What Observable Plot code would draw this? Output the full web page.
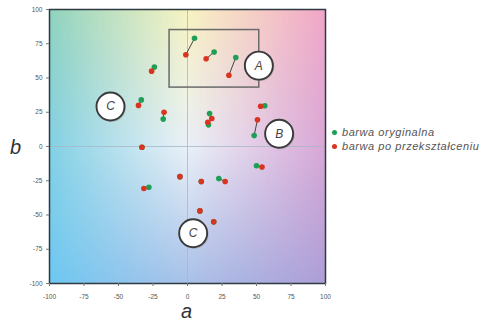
<!DOCTYPE html>
<html>
<head>
<meta charset="utf-8">
<script src="https://cdn.jsdelivr.net/npm/d3@7"></script>
<script src="https://cdn.jsdelivr.net/npm/@observablehq/plot@0.6"></script>
<style>
  body { margin: 0; background: #fff; font-family: "Liberation Sans", Arial, sans-serif; }
  #wrap { position: relative; width: 493px; height: 329px; overflow: hidden; }
  .axlab { position: absolute; font-style: italic; font-size: 20px; color: #333; line-height: 1; }
  #legend { position: absolute; left: 332px; top: 126px; font-size: 11px; letter-spacing: 0.55px; font-style: italic; color: #555; white-space: nowrap; line-height: 13.5px; }
  #legend .dot { display: inline-block; width: 5px; height: 5px; border-radius: 50%; margin-right: 5px; vertical-align: 1px; }
</style>
</head>
<body>
<div id="wrap">
  <div id="chart"></div>
  <div class="axlab" style="left:10px;top:137px;">b</div>
  <div class="axlab" style="left:181px;top:301px;">a</div>
  <div id="legend">
    <div><span class="dot" style="background:#1f9e55"></span>barwa oryginalna</div>
    <div><span class="dot" style="background:#d9341f"></span>barwa po przekształceniu</div>
  </div>
</div>
<script>
// Data
const origA  = [5.1, 19.3, 35, -24, -33.5, -17.6, 16, 15.2, 56, 48.3, -33, 50, -5.5, 10, 22.7, -28, 9, 19];
const origB  = [79, 69, 65, 58, 34, 20, 24, 15.8, 29.7, 8, -0.5, -14, -22, -25.5, -23.4, -29.7, -47, -55];
const transA = [-1.2, 13.5, 30, -26, -35.5, -17, 17.6, 14.7, 53, 50.7, -33, 54, -5.5, 10, 27.3, -31.6, 9, 19];
const transB = [67, 64, 52, 55, 30, 25, 20.4, 17.7, 29.4, 19.5, -0.5, -15, -22, -25.5, -25.5, -30.7, -47, -55];

const regionLabels = ["A", "B", "C", "C"];
const regionA = [51.7, 66.4, -55.8, 4.1];
const regionB = [59, 9.3, 29.2, -63.3];

const boxA = [-13, 52];
const boxB = [43, 85];

const xTicks = [-100, -75, -50, -25, 0, 25, 50, 75, 100];
const yTicks = [-100, -75, -50, -25, 0, 25, 50, 75, 100];

// Background colour anchors (rows top -> bottom, columns left -> right)
const bgRows = [
  ["#8fd3bf", "#f7f3c2", "#f1a6c8"],
  ["#82d1e4", "#eaf1f8", "#d8a7d6"],
  ["#6cc8f2", "#a9c1e8", "#ad9ed7"]
];

const pairs = origA.map((a, i) => ({a0: a, b0: origB[i], a1: transA[i], b1: transB[i]}));
const regions = regionLabels.map((t, i) => ({t, a: regionA[i], b: regionB[i]}));
const box = [{x1: boxA[0], x2: boxA[1], y1: boxB[0], y2: boxB[1]}];

function rowColor(row, t) {
  return t < 0.5 ? d3.interpolateLab(row[0], row[1])(t * 2) : d3.interpolateLab(row[1], row[2])((t - 0.5) * 2);
}
function bg(x, y) {
  const tx = (x + 100) / 200, ty = (100 - y) / 200;
  const c0 = rowColor(bgRows[0], tx), c1 = rowColor(bgRows[1], tx), c2 = rowColor(bgRows[2], tx);
  return ty < 0.5 ? d3.interpolateLab(c0, c1)(ty * 2) : d3.interpolateLab(c1, c2)((ty - 0.5) * 2);
}

const chart = Plot.plot({
  width: 493,
  height: 329,
  marginLeft: 49,
  marginRight: 168,
  marginTop: 9,
  marginBottom: 46,
  style: {fontFamily: "Liberation Sans, Arial, sans-serif", background: "transparent"},
  x: {domain: [-100, 100]},
  y: {domain: [-100, 100]},
  color: {type: "identity"},
  marks: [
    Plot.raster({x1: -100, y1: -100, x2: 100, y2: 100, width: 120, height: 120, fill: (x, y) => bg(x, y)}),
    Plot.ruleX([0], {stroke: "#a9b6c4", strokeWidth: 1, strokeOpacity: 0.8}),
    Plot.ruleY([0], {stroke: "#a9b6c4", strokeWidth: 1, strokeOpacity: 0.8}),
    Plot.rect(box, {x1: "x1", x2: "x2", y1: "y1", y2: "y2", fill: "none", stroke: "#6a6a6a", strokeWidth: 1.5}),
    Plot.link(pairs, {x1: "a0", y1: "b0", x2: "a1", y2: "b1", stroke: "#444", strokeWidth: 1}),
    Plot.dot(pairs, {x: "a0", y: "b0", r: 2.8, fill: "#1f9e55"}),
    Plot.dot(pairs, {x: "a1", y: "b1", r: 2.8, fill: "#d9341f"}),
    Plot.dot(regions, {x: "a", y: "b", r: 14.5, fill: "#888", fillOpacity: 0.35, dx: 1, dy: 1}),
    Plot.dot(regions, {x: "a", y: "b", r: 14, fill: "#fff", stroke: "#3a3a3a", strokeWidth: 1.9}),
    Plot.text(regions, {x: "a", y: "b", text: "t", fontSize: 12, fontStyle: "italic", fill: "#444"}),
    Plot.frame({stroke: "#2e3a40", strokeWidth: 1.5}),
    Plot.axisX({ticks: xTicks, tickFormat: d => String(d), fontSize: 6.5, fill: "#555", stroke: "#777", tickSize: 3, tickPadding: 8, label: null}),
    Plot.axisY({ticks: yTicks, tickFormat: d => String(d), fontSize: 6.5, fill: "#555", stroke: "#777", tickSize: 3, tickPadding: 4, label: null})
  ]
});
document.getElementById("chart").appendChild(chart);
</script>
</body>
</html>
